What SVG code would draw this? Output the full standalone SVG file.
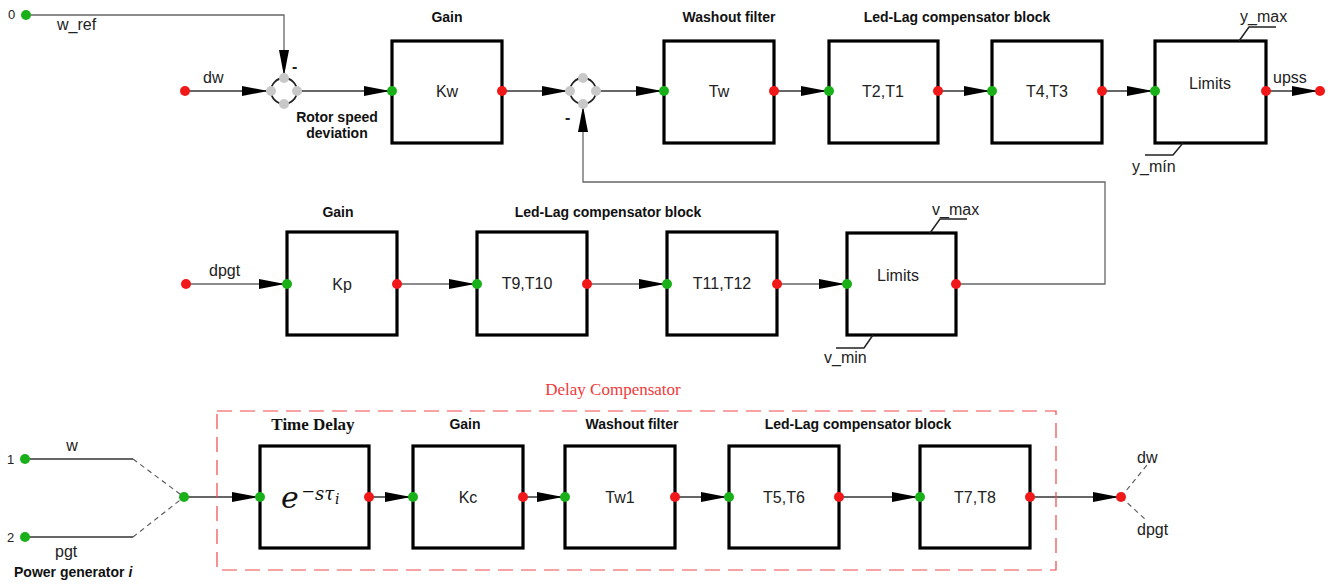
<svg xmlns="http://www.w3.org/2000/svg" width="1336" height="584" viewBox="0 0 1336 584">
<defs>
<marker id="arr" markerUnits="userSpaceOnUse" markerWidth="30" markerHeight="12" refX="28" refY="5" orient="auto" overflow="visible">
<path d="M0,0 L26,5 L0,10 Z" fill="#000"/>
</marker>
</defs>
<style>
text{font-family:"Liberation Sans",Arial,sans-serif;fill:#222}
.t{font-size:14px;font-weight:bold;text-anchor:middle;fill:#111}
.bt{font-size:16px;text-anchor:middle}
.lb{font-size:16px}
.num{font-size:13px}
.blk{fill:#fff;stroke:#000;stroke-width:3.2}
.ln{fill:none;stroke:#333;stroke-width:1.3}
.lg{fill:none;stroke:#666;stroke-width:1.3}
.ds{fill:none;stroke:#555;stroke-width:1.1;stroke-dasharray:5 4}
.g{fill:#19b019}
.r{fill:#f01818}
.gy{fill:#c8c8c8}
.ring{fill:none;stroke:#222;stroke-width:1.8}
.lim{fill:none;stroke:#222;stroke-width:1.5}
.sf{font-family:"Liberation Serif","Times New Roman",serif}
.mf{font-family:"DejaVu Serif",serif;font-style:italic;fill:#111}
</style>

<g id="connectors">
<path class="lg" d="M26,15 H284 V78" marker-end="url(#arr)"/>
<path class="ln" d="M185,91 H270" marker-end="url(#arr)"/>
<path class="ln" d="M297,91 H392" marker-end="url(#arr)"/>
<path class="ln" d="M502,91 H570" marker-end="url(#arr)"/>
<path class="ln" d="M596,91 H664" marker-end="url(#arr)"/>
<path class="ln" d="M774,91 H829" marker-end="url(#arr)"/>
<path class="ln" d="M938,91 H992" marker-end="url(#arr)"/>
<path class="ln" d="M1102,91 H1155" marker-end="url(#arr)"/>
<path class="ln" d="M1266,91 H1320" marker-end="url(#arr)"/>
<path class="lg" d="M186,284 H287" marker-end="url(#arr)"/>
<path class="lg" d="M397,284 H477" marker-end="url(#arr)"/>
<path class="lg" d="M587,284 H667" marker-end="url(#arr)"/>
<path class="lg" d="M777,284 H847" marker-end="url(#arr)"/>
<path class="lg" d="M956,284 H1105 V182 H583 V104" marker-end="url(#arr)"/>
<path class="ln" d="M25,459 H133"/>
<path class="ds" d="M133,459 L184,497"/>
<path class="ln" d="M25,537 H133"/>
<path class="ds" d="M133,537 L184,497"/>
<path class="ln" d="M184,497 H260" marker-end="url(#arr)"/>
<path class="ln" d="M369,497 H413" marker-end="url(#arr)"/>
<path class="ln" d="M523,497 H565" marker-end="url(#arr)"/>
<path class="ln" d="M675,497 H729" marker-end="url(#arr)"/>
<path class="ln" d="M839,497 H920" marker-end="url(#arr)"/>
<path class="ln" d="M1030,497 H1121" marker-end="url(#arr)"/>
<path class="ds" d="M1121,497 L1147,465"/>
<path class="ds" d="M1121,497 L1146,520"/>
</g>

<g id="w_ref">
<circle class="g" cx="26" cy="15" r="5"/>
<text class="num" x="8" y="19">0</text>
<text class="lb" x="57" y="30">w_ref</text>
</g>

<g id="dw_in">
<circle class="r" cx="185" cy="91" r="5"/>
<text class="lb" x="203" y="83">dw</text>
</g>

<g id="sum1">
<circle class="ring" cx="284" cy="91" r="13"/>
<circle class="gy" cx="271" cy="91" r="5"/>
<circle class="gy" cx="297" cy="91" r="5"/>
<circle class="gy" cx="284" cy="78" r="5"/>
<circle class="gy" cx="284" cy="104" r="5"/>
<text x="292" y="72" style="font-size:16px;font-weight:bold">-</text>
<text class="t" x="337" y="122">Rotor speed</text>
<text class="t" x="337" y="138">deviation</text>
</g>

<g id="gain_kw">
<text class="t" x="447" y="22">Gain</text>
<rect class="blk" x="392" y="41" width="110" height="102"/>
<text class="bt" x="447" y="97">Kw</text>
<circle class="g" cx="392" cy="91" r="5"/>
<circle class="r" cx="502" cy="91" r="5"/>
</g>

<g id="sum2">
<circle class="ring" cx="583" cy="91" r="13"/>
<circle class="gy" cx="570" cy="91" r="5"/>
<circle class="gy" cx="596" cy="91" r="5"/>
<circle class="gy" cx="583" cy="78" r="5"/>
<circle class="gy" cx="583" cy="104" r="5"/>
<text x="565" y="123" style="font-size:16px;font-weight:bold">-</text>
</g>

<g id="washout_tw">
<text class="t" x="729" y="22">Washout filter</text>
<rect class="blk" x="664" y="41" width="110" height="102"/>
<text class="bt" x="719" y="97">Tw</text>
<circle class="g" cx="664" cy="91" r="5"/>
<circle class="r" cx="774" cy="91" r="5"/>
</g>

<g id="leadlag_t2t1">
<text class="t" x="957" y="22">Led-Lag compensator block</text>
<rect class="blk" x="829" y="41" width="109" height="102"/>
<text class="bt" x="883" y="97">T2,T1</text>
<circle class="g" cx="829" cy="91" r="5"/>
<circle class="r" cx="938" cy="91" r="5"/>
</g>

<g id="leadlag_t4t3">
<rect class="blk" x="992" y="41" width="110" height="102"/>
<text class="bt" x="1047" y="97">T4,T3</text>
<circle class="g" cx="992" cy="91" r="5"/>
<circle class="r" cx="1102" cy="91" r="5"/>
</g>

<g id="limits_y">
<rect class="blk" x="1155" y="41" width="111" height="102"/>
<text class="bt" x="1210" y="89">Limits</text>
<path class="lim" d="M1239,41 L1249,27 H1276"/>
<text class="lb" x="1240" y="22">y_max</text>
<path class="lim" d="M1183,143 L1173,155 H1145"/>
<text class="lb" x="1132" y="172">y_mín</text>
<circle class="g" cx="1155" cy="91" r="5"/>
<circle class="r" cx="1266" cy="91" r="5"/>
</g>

<g id="upss">
<circle class="r" cx="1320" cy="91" r="5"/>
<text class="lb" x="1273" y="83">upss</text>
</g>

<g id="dpgt_in">
<circle class="r" cx="186" cy="284" r="5"/>
<text class="lb" x="209" y="276">dpgt</text>
</g>

<g id="gain_kp">
<text class="t" x="338" y="217">Gain</text>
<rect class="blk" x="287" y="232" width="110" height="103"/>
<text class="bt" x="342" y="290">Kp</text>
<circle class="g" cx="287" cy="284" r="5"/>
<circle class="r" cx="397" cy="284" r="5"/>
</g>

<g id="leadlag_t9t10">
<text class="t" x="608" y="217">Led-Lag compensator block</text>
<rect class="blk" x="477" y="232" width="110" height="103"/>
<text class="bt" x="527" y="289">T9,T10</text>
<circle class="g" cx="477" cy="284" r="5"/>
<circle class="r" cx="587" cy="284" r="5"/>
</g>

<g id="leadlag_t11t12">
<rect class="blk" x="667" y="232" width="110" height="103"/>
<text class="bt" x="722" y="289">T11,T12</text>
<circle class="g" cx="667" cy="284" r="5"/>
<circle class="r" cx="777" cy="284" r="5"/>
</g>

<g id="limits_v">
<rect class="blk" x="847" y="233" width="109" height="102"/>
<text class="bt" x="898" y="281">Limits</text>
<path class="lim" d="M930,233 L940,219 H967"/>
<text class="lb" x="932" y="215">v_max</text>
<path class="lim" d="M873,335 L864,348 H836"/>
<text class="lb" x="824" y="363">v_min</text>
<circle class="g" cx="847" cy="284" r="5"/>
<circle class="r" cx="956" cy="284" r="5"/>
</g>

<g id="delay_compensator">
<rect x="217" y="411" width="839" height="159" fill="none" stroke="#f04848" stroke-width="1.2" stroke-dasharray="15 8"/>
<text class="sf" x="613" y="395" text-anchor="middle" style="font-size:17px;fill:#ee3a3a">Delay Compensator</text>
</g>

<g id="inputs_gen">
<circle class="g" cx="25" cy="459" r="5"/>
<text class="num" x="7" y="464">1</text>
<text class="lb" x="72" y="451" text-anchor="middle">w</text>
<circle class="g" cx="25" cy="537" r="5"/>
<text class="num" x="7" y="542">2</text>
<text class="lb" x="55" y="557">pgt</text>
<text x="14" y="577" style="font-size:14px;font-weight:bold;fill:#111">Power generator <tspan font-style="italic">i</tspan></text>
<circle class="g" cx="184" cy="497" r="5"/>
</g>

<g id="time_delay">
<text class="sf" x="313" y="430" text-anchor="middle" style="font-size:17px;font-weight:bold;fill:#111">Time Delay</text>
<rect class="blk" x="260" y="446" width="109" height="102"/>
<text class="mf" x="281" y="508" style="font-size:30px">e</text>
<text class="sf" x="302" y="499" style="font-size:22px;fill:#111">−</text>
<text class="mf" x="315" y="500" style="font-size:18px">sτ</text>
<text class="mf" x="335" y="504" style="font-size:14px">i</text>
<circle class="g" cx="260" cy="497" r="5"/>
<circle class="r" cx="369" cy="497" r="5"/>
</g>

<g id="gain_kc">
<text class="t" x="465" y="429">Gain</text>
<rect class="blk" x="413" y="446" width="110" height="102"/>
<text class="bt" x="468" y="503">Kc</text>
<circle class="g" cx="413" cy="497" r="5"/>
<circle class="r" cx="523" cy="497" r="5"/>
</g>

<g id="washout_tw1">
<text class="t" x="632" y="429">Washout filter</text>
<rect class="blk" x="565" y="446" width="110" height="102"/>
<text class="bt" x="620" y="503">Tw1</text>
<circle class="g" cx="565" cy="497" r="5"/>
<circle class="r" cx="675" cy="497" r="5"/>
</g>

<g id="leadlag_t5t6">
<text class="t" x="858" y="429">Led-Lag compensator block</text>
<rect class="blk" x="729" y="446" width="110" height="102"/>
<text class="bt" x="784" y="503">T5,T6</text>
<circle class="g" cx="729" cy="497" r="5"/>
<circle class="r" cx="839" cy="497" r="5"/>
</g>

<g id="leadlag_t7t8">
<rect class="blk" x="920" y="446" width="110" height="102"/>
<text class="bt" x="975" y="503">T7,T8</text>
<circle class="g" cx="920" cy="497" r="5"/>
<circle class="r" cx="1030" cy="497" r="5"/>
</g>

<g id="output_split">
<circle class="r" cx="1121" cy="497" r="5"/>
<text class="lb" x="1137" y="463">dw</text>
<text class="lb" x="1137" y="535">dpgt</text>
</g>
</svg>
